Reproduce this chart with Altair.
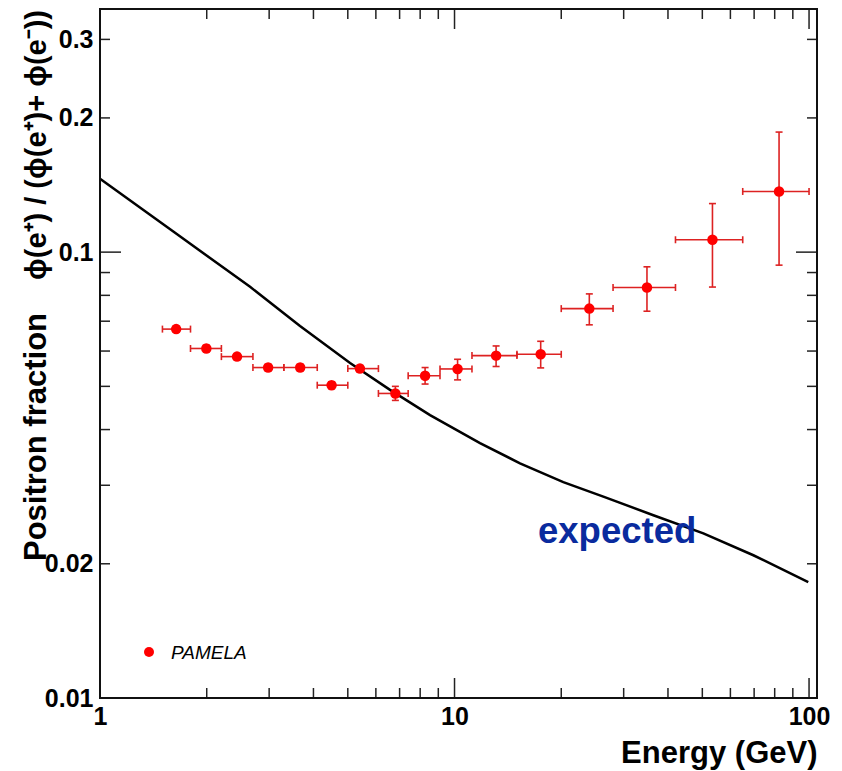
import altair as alt
import pandas as pd

# ---- data ----
energy = [1.64, 1.995, 2.435, 2.98, 3.67, 4.50, 5.41, 6.81, 8.26, 10.2, 13.1, 17.5, 24.0, 34.9, 53.4, 82.3]
e_lo = [1.5, 1.8, 2.2, 2.7, 3.3, 4.1, 5.0, 6.1, 7.4, 9.1, 11.2, 15.0, 20.0, 28.0, 42.0, 65.0]
e_hi = [1.8, 2.2, 2.7, 3.3, 4.1, 5.0, 6.1, 7.4, 9.1, 11.2, 15.0, 20.0, 28.0, 42.0, 65.0, 100.0]
frac = [0.0672, 0.0608, 0.0583, 0.0551, 0.0551, 0.0503, 0.0548, 0.0482, 0.0528, 0.0547,
        0.0586, 0.0590, 0.0747, 0.0833, 0.1066, 0.1368]
frac_lo = [0.0662, 0.0598, 0.0574, 0.0542, 0.0542, 0.0494, 0.0539, 0.0465, 0.0506, 0.0517,
           0.0554, 0.0550, 0.0687, 0.0737, 0.0835, 0.0935]
frac_hi = [0.0682, 0.0618, 0.0592, 0.0560, 0.0560, 0.0512, 0.0557, 0.0500, 0.0551, 0.0575,
           0.0616, 0.0631, 0.0806, 0.0927, 0.1285, 0.1859]

curve_e = [1.0, 1.628, 2.65, 3.666, 5.074, 6.578, 8.53, 11.8, 15.3, 20.27, 26.29,
           36.38, 50.33, 69.66, 99.5]
curve_f = [0.1461, 0.1105, 0.0836, 0.0683, 0.0564, 0.0491, 0.0431, 0.0373, 0.0336,
           0.0305, 0.0283, 0.0257, 0.0234, 0.0209, 0.0182]

x_major = [1, 10, 100]
x_minor = [2, 3, 4, 5, 6, 7, 8, 9, 20, 30, 40, 50, 60, 70, 80, 90]
y_major = [0.1]
y_minor = [0.02, 0.03, 0.04, 0.05, 0.06, 0.07, 0.08, 0.09, 0.2, 0.3]
y_labels = [0.01, 0.02, 0.1, 0.2, 0.3]

legend_label = ["PAMELA"]
curve_label = ["expected"]
ytitle_left = ["Positron fraction"]
ytitle_right = ["\u03d5(e\u207a) / (\u03d5(e\u207a)+ \u03d5(e\u207b))"]

W, H = 717, 689
FONT = "Liberation Sans"

pts = pd.DataFrame({"E": energy, "Elo": e_lo, "Ehi": e_hi,
                    "F": frac, "Flo": frac_lo, "Fhi": frac_hi})
curve = pd.DataFrame({"E": curve_e, "F": curve_f})

xs = alt.Scale(type="log", domain=[1, 105.3], nice=False)
ys = alt.Scale(type="log", domain=[0.01, 0.351], nice=False)

XAX = alt.Axis(values=x_major, format="d", tickSize=0, domain=False, grid=False,
               labelFont=FONT, labelFontWeight="bold", labelFontSize=25,
               labelColor="black", labelPadding=6, labelFlush=False,
               title="Energy (GeV)", titleFont=FONT, titleFontWeight="bold",
               titleFontSize=31, titleColor="black", titleAnchor="end",
               titleAlign="right", titleX=W, titleY=64,
               titleBaseline="alphabetic")
YAX = alt.Axis(values=y_labels, format=".2~f", tickSize=0, domain=False, grid=False,
               labelFont=FONT, labelFontWeight="bold", labelFontSize=25,
               labelColor="black", labelPadding=7, labelFlush=False, title="")

RED = "#ff0000"
BAR = "#dd2222"

line = alt.Chart(curve).mark_line(color="black", strokeWidth=2.5).encode(
    x=alt.X("E:Q", scale=xs, axis=XAX),
    y=alt.Y("F:Q", scale=ys, axis=YAX),
)

hbar = alt.Chart(pts).mark_rule(color=BAR, strokeWidth=1.6).encode(
    x=alt.X("Elo:Q", scale=xs, axis=XAX), x2="Ehi:Q",
    y=alt.Y("F:Q", scale=ys, axis=YAX))
vbar = alt.Chart(pts).mark_rule(color=BAR, strokeWidth=1.6).encode(
    x=alt.X("E:Q", scale=xs, axis=XAX),
    y=alt.Y("Flo:Q", scale=ys, axis=YAX), y2="Fhi:Q")
cap_l = alt.Chart(pts).mark_rule(color=BAR, strokeWidth=1.6, yOffset=-3.5, y2Offset=3.5).encode(
    x=alt.X("Elo:Q", scale=xs, axis=XAX),
    y=alt.Y("F:Q", scale=ys, axis=YAX), y2="F:Q")
cap_r = alt.Chart(pts).mark_rule(color=BAR, strokeWidth=1.6, yOffset=-3.5, y2Offset=3.5).encode(
    x=alt.X("Ehi:Q", scale=xs, axis=XAX),
    y=alt.Y("F:Q", scale=ys, axis=YAX), y2="F:Q")
cap_b = alt.Chart(pts).mark_rule(color=BAR, strokeWidth=1.6, xOffset=-3.5, x2Offset=3.5).encode(
    x=alt.X("E:Q", scale=xs, axis=XAX), x2="E:Q",
    y=alt.Y("Flo:Q", scale=ys, axis=YAX))
cap_t = alt.Chart(pts).mark_rule(color=BAR, strokeWidth=1.6, xOffset=-3.5, x2Offset=3.5).encode(
    x=alt.X("E:Q", scale=xs, axis=XAX), x2="E:Q",
    y=alt.Y("Fhi:Q", scale=ys, axis=YAX))
dots = alt.Chart(pts).mark_circle(color=RED, opacity=1, size=110).encode(
    x=alt.X("E:Q", scale=xs, axis=XAX),
    y=alt.Y("F:Q", scale=ys, axis=YAX))

TICK = "#222222"


def xticks(vals, length):
    d = pd.DataFrame({"v": vals})
    bot = alt.Chart(d).mark_rule(color=TICK, strokeWidth=1.5).encode(
        x=alt.X("v:Q", scale=xs, axis=XAX), y=alt.value(H), y2=alt.value(H - length))
    top = alt.Chart(d).mark_rule(color=TICK, strokeWidth=1.5).encode(
        x=alt.X("v:Q", scale=xs, axis=XAX), y=alt.value(0), y2=alt.value(length))
    return [bot, top]


def yticks(vals, length):
    d = pd.DataFrame({"v": vals})
    left = alt.Chart(d).mark_rule(color=TICK, strokeWidth=1.5).encode(
        y=alt.Y("v:Q", scale=ys, axis=YAX), x=alt.value(0), x2=alt.value(length))
    right = alt.Chart(d).mark_rule(color=TICK, strokeWidth=1.5).encode(
        y=alt.Y("v:Q", scale=ys, axis=YAX), x=alt.value(W), x2=alt.value(W - length))
    return [left, right]


ticks = xticks(x_major, 20) + xticks(x_minor, 10) + yticks(y_major, 21) + yticks(y_minor, 10)

frame = alt.Chart(pd.DataFrame({"t": legend_label})).mark_rect(
    fillOpacity=0, stroke="#111111", strokeWidth=2).encode(
    x=alt.value(0), x2=alt.value(W), y=alt.value(0), y2=alt.value(H))

leg_df = pd.DataFrame({"t": legend_label})
leg_dot = alt.Chart(leg_df).mark_circle(color=RED, opacity=1, size=100).encode(
    x=alt.value(49), y=alt.value(643))
leg_txt = alt.Chart(leg_df).mark_text(font=FONT, fontSize=19, fontStyle="italic", color="black",
                                      align="left", baseline="alphabetic").encode(
    x=alt.value(71), y=alt.value(650), text="t:N")

exp_txt = alt.Chart(pd.DataFrame({"t": curve_label})).mark_text(
    font=FONT, fontSize=36.5, fontWeight="bold", color="#0a2b9e",
    align="left", baseline="alphabetic").encode(
    x=alt.value(438), y=alt.value(534), text="t:N")

yt1 = alt.Chart(pd.DataFrame({"t": ytitle_left})).mark_text(
    font=FONT, fontSize=31, fontWeight="bold", color="black", angle=270,
    align="left", baseline="alphabetic").encode(
    x=alt.value(-54), y=alt.value(552), text="t:N")
yt2 = alt.Chart(pd.DataFrame({"t": ytitle_right})).mark_text(
    font=FONT, fontSize=29, fontWeight="bold", color="black", angle=270,
    align="right", baseline="alphabetic").encode(
    x=alt.value(-54), y=alt.value(1), text="t:N")

chart = alt.layer(
    line, *ticks, hbar, vbar, cap_l, cap_r, cap_b, cap_t, dots,
    leg_dot, leg_txt, exp_txt, yt1, yt2, frame
).properties(
    width=W, height=H,
    autosize=alt.AutoSizeParams(type="none"),
    padding={"left": 100, "top": 9, "right": 25, "bottom": 73},
).configure_view(
    stroke=None, fill="white"
).configure(background="white")

chart.save("out.html", embed_options={"renderer": "svg", "actions": False})
